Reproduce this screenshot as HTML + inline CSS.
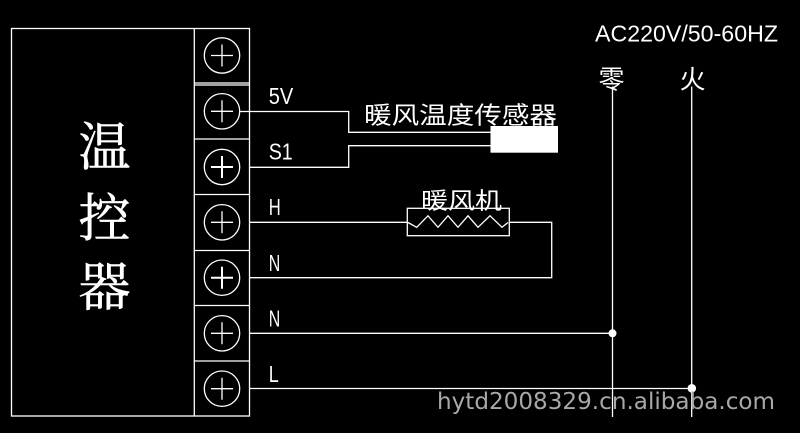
<!DOCTYPE html>
<html><head><meta charset="utf-8"><style>
html,body{margin:0;padding:0;background:#000;}
svg{display:block;}
</style></head><body>
<svg width="800" height="433" viewBox="0 0 800 433" xmlns="http://www.w3.org/2000/svg">
<rect width="800" height="433" fill="#000"/>
<g stroke="#fff" fill="none" stroke-width="1.3">
<!-- main box -->
<rect x="11.5" y="28.5" width="238" height="387.5"/>
<line x1="194.3" y1="28.5" x2="194.3" y2="416"/>
<line x1="194.3" y1="83" x2="249.5" y2="83"/>
<line x1="194.3" y1="85" x2="249.5" y2="85"/>
<line x1="194.3" y1="139" x2="249.5" y2="139"/>
<line x1="194.3" y1="194.5" x2="249.5" y2="194.5"/>
<line x1="194.3" y1="250.5" x2="249.5" y2="250.5"/>
<line x1="194.3" y1="305.5" x2="249.5" y2="305.5"/>
<line x1="194.3" y1="361" x2="249.5" y2="361"/>
<!-- circles -->
<circle cx="222" cy="55.5" r="17.7"/>
<circle cx="222" cy="111.3" r="17.7"/>
<circle cx="222" cy="167" r="17.7"/>
<circle cx="222" cy="222.3" r="17.7"/>
<circle cx="222" cy="277.7" r="17.7"/>
<circle cx="222" cy="333.3" r="17.7"/>
<circle cx="222" cy="388.7" r="17.7"/>
<!-- crosses -->
<path d="M211 55.5H233M222 44.5V66.5"/>
<path d="M211 111.3H233M222 100.3V122.3"/>
<path d="M211 167H233M222 156V178" stroke-width="2"/>
<path d="M211 222.3H233M222 211.3V233.3"/>
<path d="M211 277.7H233M222 266.7V288.7" stroke-width="2"/>
<path d="M211 333.3H233M222 322.3V344.3"/>
<path d="M211 388.7H233M222 377.7V399.7"/>
<!-- 5V / S1 wires -->
<path d="M240 111.5H348.7V132.3H490.5"/>
<path d="M250 167.3H348.7V145.7H490.5"/>
<!-- H / N fan loop -->
<path d="M250 222.3H407.3"/>
<rect x="407.3" y="208.3" width="102" height="27.4"/>
<polyline points="408,222.5 416.7,227.3 428,215.8 438,227.3 448,215.8 458,227.3 468,215.8 478,227.3 490,215.8 502,227.3 508,222.5"/>
<path d="M509.3 222.3H551.7V277.7H250"/>
<!-- N, L to mains -->
<path d="M250 333.3H612.5"/>
<path d="M250 388.5H692"/>
<line x1="612.5" y1="86.5" x2="612.5" y2="417"/>
<line x1="691.7" y1="86.5" x2="691.7" y2="417"/>
</g>
<rect x="490.5" y="126" width="67.5" height="26.7" fill="#fff"/>
<circle cx="612.5" cy="333.3" r="4" fill="#fff"/>
<circle cx="691.8" cy="388.3" r="4.3" fill="#fff"/>
<!-- text -->
<g fill="#fff" font-family="'Liberation Sans', sans-serif" font-size="23">
<text x="268.7" y="104" textLength="24.5" lengthAdjust="spacingAndGlyphs">5V</text>
<text x="268.7" y="159.3" textLength="24" lengthAdjust="spacingAndGlyphs">S1</text>
<text x="268.7" y="215" textLength="12" lengthAdjust="spacingAndGlyphs">H</text>
<text x="268.7" y="271" textLength="11.5" lengthAdjust="spacingAndGlyphs">N</text>
<text x="268.7" y="326.7" textLength="11.5" lengthAdjust="spacingAndGlyphs">N</text>
<text x="268.7" y="382" textLength="10" lengthAdjust="spacingAndGlyphs">L</text>
<text x="595" y="41.7" textLength="183" lengthAdjust="spacingAndGlyphs">AC220V/50-60HZ</text>
</g>
<g fill="#fff" font-family="'Liberation Sans', 'Noto Sans CJK SC', sans-serif">
<text x="364" y="123.5" font-size="24" textLength="193" lengthAdjust="spacingAndGlyphs">暖风温度传感器</text>
<text x="421" y="208.5" font-size="23" textLength="81" lengthAdjust="spacingAndGlyphs">暖风机</text>
<text x="598.5" y="88.5" font-size="26">零</text>
<text x="679.5" y="88.5" font-size="26">火</text>
</g>
<g fill="#fff" stroke="#fff" stroke-width="0.6" font-family="'Noto Serif CJK SC', 'Noto Serif CJK JP', serif" font-size="52" font-weight="normal">
<text x="78.5" y="165.5">温</text>
<text x="78.5" y="236.5">控</text>
<text x="78.5" y="305.5">器</text>
</g>
<text x="437" y="409" fill="#a8a8a8" font-family="'DejaVu Sans', sans-serif" font-size="23" textLength="338" lengthAdjust="spacingAndGlyphs">hytd2008329.cn.alibaba.com</text>
</svg>
</body></html>
